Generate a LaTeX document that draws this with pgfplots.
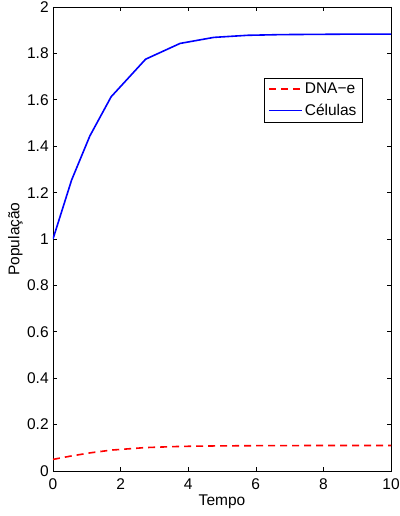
\documentclass[border=0pt]{standalone}
\usepackage{pgfplots}
\pgfplotsset{compat=1.18}
\usepackage{fontspec}
\setmainfont{Liberation Sans}
\begin{document}
\fontsize{15.5}{18}\selectfont
\begin{tikzpicture}
\begin{axis}[
  scale only axis,
  width=338pt, height=464pt,
  xmin=0, xmax=10, ymin=0, ymax=2,
  xtick={0,2,...,10},
  ytick={0,0.2,...,2},
  yticklabels={0,0.2,0.4,0.6,0.8,1,1.2,1.4,1.6,1.8,2},
  tick align=inside,
  major tick length=4pt,
  tick style={black, line width=0.6pt},
  axis line style={black, line width=0.8pt},
  /pgf/number format/assume math mode=true,
  ticklabel style={font=\fontsize{15.5}{18}\selectfont},
  xticklabel style={yshift=-2.5pt},
  yticklabel style={xshift=1pt},
  label style={font=\fontsize{15.5}{18}\selectfont},
  xlabel={Tempo},
  ylabel={População},
  xlabel style={yshift=6pt},
  ylabel style={yshift=-6pt},
  legend style={at={(0.624,0.847)}, anchor=north west, draw=black, line width=0.6pt,
    font=\fontsize{15.5}{17}\selectfont, inner xsep=4pt, inner ysep=2.5pt, row sep=4pt},
  legend cell align=left,
  legend image code/.code={\draw[#1, line width=1.6pt] (0pt,0pt) -- (33pt,0pt);},
]
\addplot[red, line width=1.6pt, dash pattern=on 7pt off 5pt] coordinates {
(0,0.050) (0.55,0.065) (1.09,0.078) (1.72,0.090) (2.74,0.101) (3.76,0.106) (4.76,0.108) (5.76,0.109) (6.76,0.1095) (7.76,0.1098) (8.76,0.110) (10,0.110)};
\addlegendentry{DNA−e}
\addplot[blue, line width=1.6pt] coordinates {
(0,1.000) (0.55,1.254) (1.09,1.444) (1.72,1.613) (2.74,1.775) (3.76,1.843) (4.76,1.869) (5.76,1.878) (6.76,1.881) (7.76,1.882) (8.76,1.883) (10,1.883)};
\addlegendentry{Células}
\end{axis}
\pgfresetboundingbox
\path ([shift={(-53pt,-45pt)}]current axis.south west) rectangle ([shift={(9pt,7pt)}]current axis.north east);
\end{tikzpicture}
\end{document}
